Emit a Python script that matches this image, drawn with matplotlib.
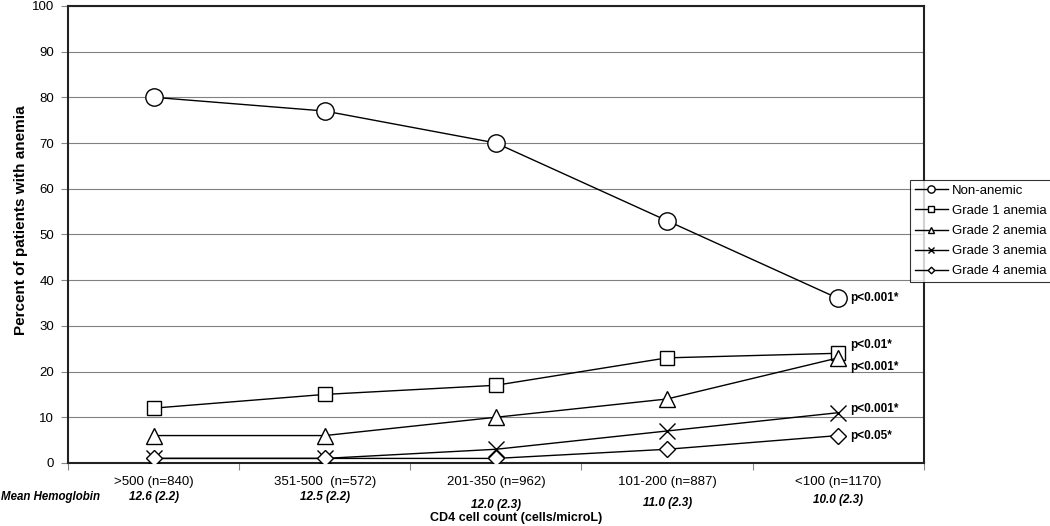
import matplotlib
matplotlib.use('Agg')
import matplotlib.pyplot as plt

# Data
categories = ['>500 (n=840)', '351-500  (n=572)', '201-350 (n=962)',
              '101-200 (n=887)', '<100 (n=1170)']
hemoglobin = ['12.6 (2.2)', '12.5 (2.2)', '12.0 (2.3)', '11.0 (2.3)', '10.0 (2.3)']
non_anemic = [80, 77, 70, 53, 36]
grade1 = [12, 15, 17, 23, 24]
grade2 = [6, 6, 10, 14, 23]
grade3 = [1, 1, 3, 7, 11]
grade4 = [1, 1, 1, 3, 6]
pvalues = ['p<0.001*', 'p<0.01*', 'p<0.001*', 'p<0.001*', 'p<0.05*']

plt.rcParams['font.family'] = ['Liberation Sans', 'DejaVu Sans']

fig = plt.figure(figsize=(10.5, 5.26), dpi=100)
ax = fig.add_axes([0.0648, 0.1198, 0.815, 0.869])

x = list(range(len(categories)))
series = [
    ('Non-anemic', non_anemic, 'o', 12.5),
    ('Grade 1 anemia', grade1, 's', 10.5),
    ('Grade 2 anemia', grade2, '^', 11.5),
    ('Grade 3 anemia', grade3, 'x', 11),
    ('Grade 4 anemia', grade4, 'D', 8),
]
for name, vals, m, ms in series:
    ax.plot(x, vals, color='black', lw=1.0, marker=m, ms=ms,
            mfc='white', mec='black', mew=1.0, label=name, zorder=3)

# p-value annotations next to the last points
offsets = [0, 1.8, -2.0, 0.8, 0]
for (name, vals, m, ms), p, off in zip(series, pvalues, offsets):
    ax.text(x[-1] + 0.07, vals[-1] + off, p, fontsize=8.5, fontweight='bold',
            va='center', ha='left')

ax.set_xlim(-0.5, len(categories) - 0.5)
ax.set_ylim(0, 100)
ax.set_yticks(range(0, 101, 10))
ax.yaxis.grid(True, color='#808080', lw=0.8)
ax.set_axisbelow(True)
for s in ax.spines.values():
    s.set_linewidth(1.5)
    s.set_color('#222222')

ax.set_xticks([i + 0.5 for i in range(-1, len(categories))])
ax.set_xticklabels([])
ax.tick_params(axis='x', length=5, direction='out', width=0.8, color='#888888')
ax.tick_params(axis='y', length=5, direction='out', width=0.8, labelsize=9.5,
               color='#888888', pad=5)

hemo_y = [-7.4, -7.4, -9.2, -8.8, -8.2]
for i, (c, h) in enumerate(zip(categories, hemoglobin)):
    ax.text(i, -4.2, c, ha='center', va='center', fontsize=9.5)
    ax.text(i, hemo_y[i], h, ha='center', va='center', fontsize=8.5,
            fontweight='bold', style='italic')
fig.text(0.001, 1 - 497 / 526, 'Mean Hemoglobin', ha='left', va='center',
         fontsize=8.3, fontweight='bold', style='italic')
fig.text(516 / 1050, 1 - 518 / 526, 'CD4 cell count (cells/microL)', ha='center',
         va='center', fontsize=9, fontweight='bold')
ax.set_ylabel('Percent of patients with anemia', fontsize=11, fontweight='bold')
ax.yaxis.set_label_coords(-0.047, 0.532)

leg = ax.legend(loc='upper left', bbox_to_anchor=(910 / 1050, 1 - 180 / 526),
                bbox_transform=fig.transFigure, fontsize=9.5, markerscale=0.42,
                frameon=True, fancybox=False, edgecolor='black',
                borderpad=0.35, labelspacing=0.6, handlelength=2.5,
                handletextpad=0.3, borderaxespad=0)
leg.get_frame().set_linewidth(0.8)
leg.set_zorder(5)

fig.savefig('out.png', dpi=100)
